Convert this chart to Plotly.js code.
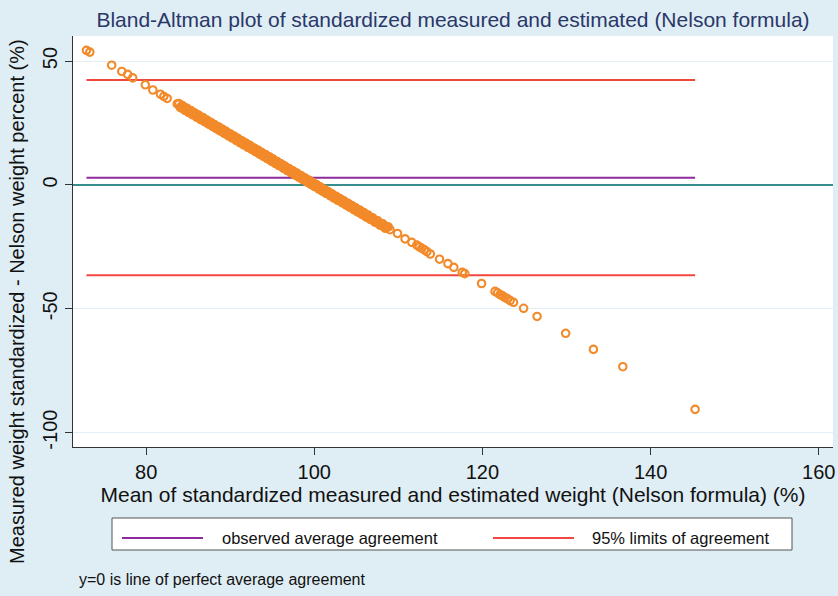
<!DOCTYPE html>
<html>
<head>
<meta charset="utf-8">
<script src="https://cdn.plot.ly/plotly-3.0.1.min.js"></script>
<style>html,body{margin:0;padding:0;background:#dfedf4;}#chart{width:838px;height:596px;}</style>
</head>
<body>
<div id="chart"></div>
<script>
// Mean of standardized measured and estimated weight (%)
var meanX = [72.9,73.3,75.9,77.1,77.8,78.4,79.9,80.8,81.7,82.1,82.5,83.7,
83.9,84.2,84.4,84.7,84.9,85.2,85.4,85.6,85.9,86.1,86.3,86.6,86.8,87.1,87.3,87.5,87.8,88.0,
88.2,88.5,88.7,88.9,89.2,89.4,89.6,89.9,90.1,90.3,90.6,90.8,91.0,91.3,91.5,91.7,92.0,92.2,
92.4,92.7,92.9,93.1,93.4,93.6,93.8,94.1,94.3,94.5,94.8,95.0,95.2,95.5,95.7,95.9,96.2,96.4,
96.6,96.9,97.1,97.3,97.6,97.8,98.0,98.3,98.5,98.7,99.0,99.2,99.4,99.7,99.9,100.1,100.4,100.6,
100.8,101.1,101.3,101.5,101.8,102.0,102.2,102.5,102.7,102.9,103.2,103.4,103.6,103.9,104.1,104.3,
104.6,104.8,105.0,105.3,105.5,105.8,106.0,106.3,106.5,106.8,107.1,107.4,107.7,108.0,108.3,108.6,
109.0,109.9,110.8,111.6,112.2,112.5,112.8,113.1,113.4,113.8,114.9,115.9,116.6,117.6,117.9,119.9,
121.5,121.8,122.1,122.4,122.7,123.0,123.3,123.7,124.9,126.5,129.9,133.2,136.7,145.3,
84.05,84.3,84.55,84.8,85.05,85.3,85.5,85.75,86.0,86.2,86.45,86.7,86.95,87.2,87.4,87.65,87.9,88.1,
88.35,88.6,88.8,89.05,89.3,89.5,89.75,90.0,90.2,90.45,90.7,90.9,91.15,91.4,91.6,91.85,92.1,92.3,
92.55,92.8,93.0,93.25,93.5,93.7,93.95,94.2,94.4,94.65,94.9,95.1,95.35,95.6,95.8,96.05,96.3,96.5,
96.75,97.0,97.2,97.45,97.7,97.9,98.15,98.4,98.6,98.85,99.1,99.3,99.55,99.8,100.0,100.25,100.5,100.7,
100.95,101.2,101.4,101.65,101.9,102.1,102.35,102.6,102.8,103.05,103.3,103.5,103.75,104.0,104.2,104.45,
104.7,104.9,105.15,105.4,105.65,105.9,106.15,106.4,106.65,106.95,107.25,107.55,107.85,108.15,108.45,108.8];
// Measured weight standardized - Nelson weight percent (%)
var diffY = [54.3,53.6,48.3,45.8,44.6,43.2,40.4,38.3,36.6,35.7,34.9,32.7,
32.8,31.1,31.7,30.0,30.7,29.1,29.8,28.3,28.7,27.3,28.0,26.3,27.0,25.4,25.8,24.5,24.8,23.5,
24.0,22.6,23.0,21.8,22.0,20.8,21.2,19.8,20.2,19.0,19.2,17.9,18.4,16.9,17.4,16.2,16.4,15.2,
15.6,14.2,14.6,13.4,13.6,12.4,12.8,11.4,11.8,10.6,10.8,9.6,10.0,8.6,9.0,7.8,8.0,6.8,
7.2,5.8,6.2,5.0,5.2,3.9,4.4,2.9,3.4,2.2,2.4,1.2,1.6,0.2,0.6,-0.6,-0.4,-1.6,
-1.2,-2.6,-2.2,-3.4,-3.2,-4.4,-4.0,-5.4,-5.0,-6.2,-6.0,-7.2,-6.8,-8.2,-7.8,-9.0,
-8.8,-10.0,-9.6,-11.0,-10.6,-12.0,-11.6,-13.0,-12.6,-13.8,-14.6,-14.4,-15.8,-15.6,-16.9,-16.8,
-18.1,-19.6,-21.8,-23.2,-24.3,-25.0,-25.6,-26.2,-26.9,-27.9,-30.0,-31.8,-33.3,-35.3,-35.8,-39.8,
-43.0,-43.6,-44.3,-44.8,-45.5,-46.0,-46.7,-47.4,-49.8,-53.1,-59.9,-66.4,-73.4,-90.6,
31.3,32.0,30.3,31.0,29.3,30.0,28.4,29.1,27.4,28.2,26.5,27.2,25.5,26.2,24.6,25.3,23.6,24.4,
22.7,23.4,21.8,22.5,20.8,21.6,19.9,20.6,19.0,19.7,18.0,18.8,17.1,17.8,16.2,16.9,15.2,16.0,
14.3,15.0,13.4,14.1,12.4,13.2,11.5,12.2,10.6,11.3,9.6,10.4,8.7,9.4,7.8,8.5,6.8,7.6,
5.9,6.6,5.0,5.7,4.0,4.8,3.1,3.8,2.2,2.9,1.2,2.0,0.3,1.0,-0.6,0.1,-1.6,-0.8,
-2.5,-1.8,-3.4,-2.7,-4.4,-3.6,-5.3,-4.6,-6.2,-5.5,-7.2,-6.4,-8.1,-7.4,-9.0,-8.3,
-10.0,-9.2,-10.9,-10.2,-11.9,-11.2,-12.9,-12.2,-13.9,-13.3,-15.1,-14.5,-16.3,-15.7,-17.5,-17.0];

var meanDiff = 2.9;      // observed average agreement
var upperLimit = 42.3;   // 95% limits of agreement
var lowerLimit = -36.5;
var xTicks = [80, 100, 120, 140, 160];
var yTicks = [-100, -50, 0, 50];
var legendLabels = ['observed average agreement', '95% limits of agreement'];

var xmin = Math.min.apply(null, meanX), xmax = Math.max.apply(null, meanX);

var cOrange = '#f28a2a', cRed = '#f2473e', cPurple = '#8c2c9a';
var font = 'Liberation Sans, Arial, Helvetica, sans-serif';

var traces = [
  {x: [xmin, xmax], y: [upperLimit, upperLimit], mode: 'lines', line: {color: cRed, width: 2}, hoverinfo: 'skip', showlegend: false, name: legendLabels[1]},
  {x: [xmin, xmax], y: [lowerLimit, lowerLimit], mode: 'lines', line: {color: cRed, width: 2}, hoverinfo: 'skip', showlegend: false, name: legendLabels[1]},
  {x: [xmin, xmax], y: [meanDiff, meanDiff], mode: 'lines', line: {color: cPurple, width: 2}, hoverinfo: 'skip', showlegend: false, name: legendLabels[0]},
  {x: meanX, y: diffY, mode: 'markers', type: 'scatter', showlegend: false,
   marker: {symbol: 'circle-open', size: 7.5, color: cOrange, line: {color: cOrange, width: 2.1}}}
];

// manual legend in paper coordinates
var L = 73, W = 760, B = 447, H = 411;
function px(v){ return (v - L) / W; }
function py(v){ return (B - v) / H; }

var layout = {
  width: 838, height: 596,
  margin: {l: L, r: 838 - L - W, t: B - H, b: 596 - B},
  paper_bgcolor: '#dfedf4',
  plot_bgcolor: '#ffffff',
  font: {family: font, color: '#111111'},
  title: {text: 'Bland-Altman plot of standardized measured and estimated (Nelson formula)',
          font: {size: 21, color: '#2a3768', family: font},
          xref: 'paper', x: 0.5, xanchor: 'center', yref: 'container', y: 1 - 20/596, yanchor: 'middle'},
  xaxis: {range: [71.3, 161.7], tickvals: xTicks, ticktext: xTicks.map(String),
          showgrid: false, zeroline: false, showline: true, linecolor: '#333', linewidth: 1,
          ticks: 'outside', ticklen: 7, tickcolor: '#333', tickfont: {size: 20},
          title: {text: 'Mean of standardized measured and estimated weight (Nelson formula) (%)', font: {size: 21}, standoff: 4}},
  yaxis: {range: [-105.8, 60.1], tickvals: yTicks, ticktext: yTicks.map(String), tickangle: -90,
          showgrid: true, gridcolor: '#e4eff5', gridwidth: 1,
          zeroline: true, zerolinecolor: '#378d8c', zerolinewidth: 2,
          showline: true, linecolor: '#333', linewidth: 1,
          ticks: 'outside', ticklen: 7, tickcolor: '#333', tickfont: {size: 20}},
  shapes: [
    {type: 'rect', xref: 'paper', yref: 'paper', x0: px(112), x1: px(792), y0: py(518), y1: py(550),
     fillcolor: '#ffffff', line: {color: '#555555', width: 1}},
    {type: 'line', xref: 'paper', yref: 'paper', x0: px(122), x1: px(203), y0: py(538), y1: py(538),
     line: {color: cPurple, width: 2}},
    {type: 'line', xref: 'paper', yref: 'paper', x0: px(493), x1: px(574), y0: py(538), y1: py(538),
     line: {color: cRed, width: 2}}
  ],
  annotations: [
    {text: 'Measured weight standardized - Nelson weight percent (%)', textangle: -90,
     xref: 'paper', yref: 'paper', x: px(17), y: py(302), xanchor: 'center', yanchor: 'middle',
     showarrow: false, font: {size: 20}},
    {text: legendLabels[0], xref: 'paper', yref: 'paper', x: px(220), y: py(538), xanchor: 'left', yanchor: 'middle',
     showarrow: false, font: {size: 16.5}},
    {text: legendLabels[1], xref: 'paper', yref: 'paper', x: px(590), y: py(538), xanchor: 'left', yanchor: 'middle',
     showarrow: false, font: {size: 16.5}},
    {text: 'y=0 is line of perfect average agreement', xref: 'paper', yref: 'paper', x: px(77), y: py(579),
     xanchor: 'left', yanchor: 'middle', showarrow: false, font: {size: 16}}
  ]
};

Plotly.newPlot('chart', traces, layout, {displayModeBar: false, staticPlot: true});
</script>
</body>
</html>
